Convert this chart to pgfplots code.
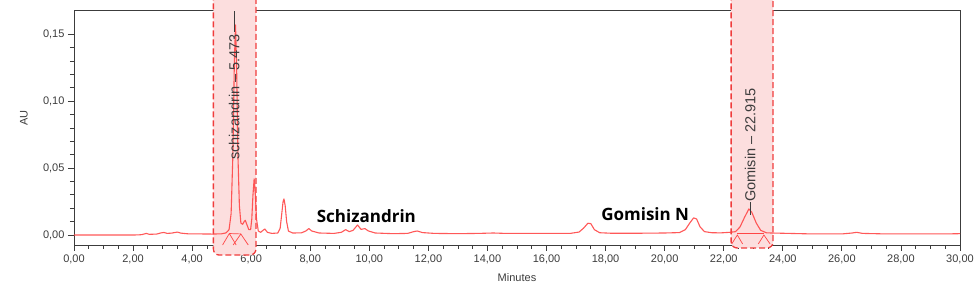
\documentclass[border=0pt]{standalone}
\usepackage{pgfplots}
\pgfplotsset{compat=1.18}
\usepackage{fontspec}
\setmainfont{Liberation Sans}
\newfontfamily\boldlab{Open Sans}
\definecolor{trace}{RGB}{255,70,70}
\definecolor{boxfill}{RGB}{252,222,222}
\definecolor{boxline}{RGB}{240,60,60}
\definecolor{axgray}{RGB}{60,60,60}
\begin{document}
\begin{tikzpicture}[x=1pt,y=1pt]
\useasboundingbox (-74,-38) rectangle (905,245);
\begin{axis}[
  at={(0,0)}, anchor=south west,
  scale only axis, width=886pt, height=235pt,
  xmin=0, xmax=30, ymin=-0.00747, ymax=0.1682,
  clip=false,
  axis line style={axgray, line width=0.8pt},
  xtick={0,2,...,30}, minor x tick num=3,
  ytick={0,0.05,0.1,0.15}, minor y tick num=4,
  tick align=outside, xtick pos=bottom, ytick pos=left,
  major tick length=6pt, minor tick length=4pt,
  tick style={axgray, line width=0.8pt},
  tick label style={font=\fontsize{11}{11}\selectfont, text=axgray},
  /pgf/number format/.cd, fixed, fixed zerofill, precision=2, use comma, assume math mode=true,
  /pgfplots/.cd,
  xlabel={Minutes}, ylabel={AU},
  label style={font=\fontsize{11}{11}\selectfont, text=axgray},
  xlabel style={at={(axis description cs:0.5,0)}, anchor=north, inner sep=0pt, yshift=-28pt},
  ylabel style={at={(axis description cs:-0.0519,0.54)}, anchor=south, inner sep=0pt},
]
% highlight boxes
\fill[boxfill, rounded corners=6pt] (axis cs:4.72,-0.015) rectangle (axis cs:6.16,0.2);
\draw[boxline, line width=1.3pt, dash pattern=on 6pt off 3pt, rounded corners=6pt] (axis cs:4.72,0.2) -- (axis cs:4.72,-0.015) -- (axis cs:6.16,-0.015) -- (axis cs:6.16,0.2);
\fill[boxfill, rounded corners=6pt] (axis cs:22.25,-0.0097) rectangle (axis cs:23.67,0.2);
\draw[boxline, line width=1.3pt, dash pattern=on 6pt off 3pt, rounded corners=6pt] (axis cs:22.25,0.2) -- (axis cs:22.25,-0.0097) -- (axis cs:23.67,-0.0097) -- (axis cs:23.67,0.2);

\addplot[trace, line width=1.1pt, line join=round, opacity=0.9] coordinates {
(0,0) (1,0) (2,0) (2.2,0.0001) (2.3,0.0003) (2.45,0.0012) (2.55,0.0005) (2.8,0.0007) (2.95,0.0016) (3.05,0.0019) (3.15,0.0012) (3.3,0.0014) (3.5,0.0022) (3.62,0.0014) (3.9,0.0008) (4.3,0.0008) (4.7,0.0007) (5.0,0.0009) (5.15,0.0016) (5.25,0.004) (5.32,0.016) (5.38,0.06) (5.43,0.13) (5.47,0.157) (5.51,0.12) (5.55,0.06) (5.6,0.022) (5.65,0.009) (5.71,0.008) (5.76,0.010) (5.8,0.011) (5.85,0.008) (5.92,0.004) (5.98,0.004) (6.02,0.012) (6.06,0.03) (6.1,0.042) (6.14,0.03) (6.18,0.012) (6.24,0.003) (6.32,0.002) (6.4,0.0035) (6.46,0.0045) (6.55,0.002) (6.7,0.0012) (6.9,0.0015) (6.98,0.005) (7.03,0.015) (7.08,0.025) (7.11,0.027) (7.15,0.022) (7.2,0.01) (7.26,0.003) (7.4,0.0015) (7.7,0.0016) (7.85,0.003) (7.95,0.0048) (8.05,0.003) (8.3,0.0015) (8.8,0.0012) (9.05,0.002) (9.2,0.004) (9.32,0.0025) (9.45,0.0035) (9.6,0.0075) (9.72,0.0042) (9.85,0.0048) (9.97,0.003) (10.2,0.0015) (10.8,0.001) (11.3,0.0012) (11.5,0.0025) (11.62,0.003) (11.8,0.0018) (12.2,0.0012) (13.0,0.001) (13.7,0.0012) (14.2,0.0015) (14.6,0.0012) (15.2,0.0012) (16.0,0.0012) (16.8,0.0012) (17.1,0.0022) (17.25,0.005) (17.4,0.0088) (17.5,0.0085) (17.62,0.004) (17.8,0.0017) (18.2,0.0013) (19.0,0.0013) (20.0,0.0015) (20.5,0.0018) (20.7,0.004) (20.85,0.009) (20.98,0.0128) (21.08,0.012) (21.2,0.006) (21.35,0.0025) (21.6,0.0017) (21.9,0.0016) (22.2,0.002) (22.4,0.0025) (22.55,0.006) (22.7,0.013) (22.85,0.0195) (22.95,0.017) (23.1,0.009) (23.25,0.0035) (23.45,0.0016) (24.0,0.0013) (25.0,0.0008) (26.0,0.0008) (26.35,0.0015) (26.5,0.002) (26.7,0.0012) (27.5,0.0008) (28.5,0.0008) (29.5,0.0008) (30,0.001)
};
% integration baseline markers
\addplot[trace, line width=0.7pt] coordinates {(5.03,-0.00747) (5.26,0.0011) (5.49,-0.00747)};
\addplot[trace, line width=0.7pt] coordinates {(5.39,-0.00747) (5.65,0.0008) (5.90,-0.00747)};
\addplot[trace, line width=0.7pt] coordinates {(5.26,0.0011) (5.65,0.0008)};
\addplot[trace, line width=0.7pt] coordinates {(22.27,-0.0067) (22.46,0.0) (22.64,-0.0067)};
\addplot[trace, line width=0.7pt] coordinates {(23.17,-0.0067) (23.36,0.0) (23.57,-0.0067)};
\addplot[trace, line width=0.7pt] coordinates {(22.46,0.0013) (23.36,0.0013)};

% peak labels
\node[rotate=90, anchor=base west, inner sep=0pt, text=axgray, font=\fontsize{14.5}{14.5}\selectfont] at (axis cs:5.60,0.056) {schizandrin – 5.473\,\rule[0.3em]{1.45em}{0.7pt}};
\node[rotate=90, anchor=base west, inner sep=0pt, text=axgray, font=\fontsize{14.5}{14.5}\selectfont] at (axis cs:23.07,0.015) {\rule[0.3em]{0.9em}{0.7pt}Gomisin – 22.915};
\node[anchor=base, inner sep=0pt, font=\boldlab\bfseries\fontsize{17}{17}\selectfont] at (axis cs:9.9,0.009) {Schizandrin};
\node[anchor=base, inner sep=0pt, font=\boldlab\bfseries\fontsize{17}{17}\selectfont] at (axis cs:19.34,0.0112) {Gomisin N};
\end{axis}
\end{tikzpicture}
\end{document}
